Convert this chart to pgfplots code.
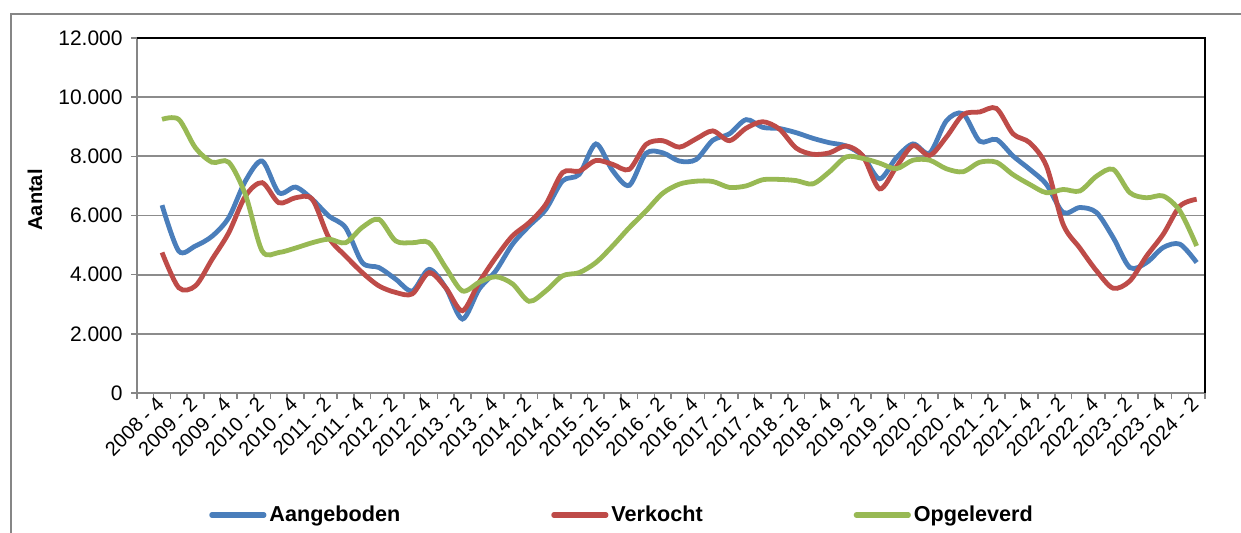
\documentclass[border=0pt]{standalone}
\usepackage{pgfplots}
\usepackage{pgfplotstable}
\pgfplotsset{compat=1.18}
\usepackage{fontspec}
\setmainfont{Liberation Sans}

\definecolor{cAang}{HTML}{4A7EBB}
\definecolor{cVerk}{HTML}{BE4B48}
\definecolor{cOpge}{HTML}{98B954}
\definecolor{axisgray}{HTML}{868686}
\definecolor{gridgray}{HTML}{8C8C8C}

% quarter index: 1 = 2008-4 ... 63 = 2024-2
\pgfplotstableread{
q  aang  verk  opge
1  6350  4750  9250
2  4800  3560  9250
3  4970  3620  8290
4  5300  4520  7800
5  5930  5420  7800
6  7170  6660  6700
7  7840  7110  4800
8  6770  6430  4750
9  6960  6600  4900
10 6550  6550  5080
11 5980  5250  5200
12 5590  4630  5080
13 4410  4070  5600
14 4240  3620  5870
15 3850  3400  5140
16 3450  3350  5080
17 4180  4070  5080
18 3560  3560  4240
19 2500  2780  3450
20 3510  3740  3740
21 4130  4580  3930
22 5030  5310  3690
23 5650  5760  3100
24 6210  6380  3450
25 7170  7450  3960
26 7390  7500  4070
27 8420  7860  4410
28 7520  7730  4970
29 7020  7560  5590
30 8100  8400  6150
31 8120  8530  6750
32 7840  8310  7060
33 7890  8590  7160
34 8540  8860  7150
35 8760  8530  6950
36 9240  8950  7000
37 8980  9170  7210
38 8940  8920  7220
39 8800  8280  7180
40 8610  8070  7070
41 8460  8120  7480
42 8350  8350  7980
43 8010  8010  7930
44 7240  6900  7770
45 7950  7640  7580
46 8420  8360  7870
47 8110  8030  7870
48 9200  8650  7580
49 9440  9410  7480
50 8510  9500  7800
51 8570  9620  7800
52 8010  8760  7380
53 7560  8460  7050
54 7050  7670  6770
55 6100  5700  6880
56 6270  4900  6830
57 6100  4130  7330
58 5250  3540  7560
59 4240  3790  6770
60 4410  4630  6600
61 4920  5370  6660
62 5030  6320  6150
63 4410  6550  4970
}\datatable

\begin{document}
\begin{tikzpicture}
\useasboundingbox (0,0) rectangle (620.5pt,266pt);
\draw[axisgray, line width=1pt] (5.5pt,-2pt) -- (5.5pt,259pt) -- (623pt,259pt);
\begin{axis}[
  at={(68.5pt,69.5pt)}, anchor=south west,
  scale only axis, width=534pt, height=177.5pt,
  xmin=-0.5, xmax=63.5, ymin=0, ymax=12000,
  axis lines=left, axis line style={-, draw=axisgray, line width=1pt},
  xtick={1,3,...,63},
  xticklabels={2008 - 4, 2009 - 2, 2009 - 4, 2010 - 2, 2010 - 4, 2011 - 2, 2011 - 4, 2012 - 2, 2012 - 4, 2013 - 2, 2013 - 4, 2014 - 2, 2014 - 4, 2015 - 2, 2015 - 4, 2016 - 2, 2016 - 4, 2017 - 2, 2017 - 4, 2018 - 2, 2018 - 4, 2019 - 2, 2019 - 4, 2020 - 2, 2020 - 4, 2021 - 2, 2021 - 4, 2022 - 2, 2022 - 4, 2023 - 2, 2023 - 4, 2024 - 2},
  minor xtick={-0.5,0.5,...,63.5},
  ytick={0,2000,...,12000},
  scaled y ticks=false,
  /pgf/number format/1000 sep={.},
  /pgf/number format/assume math mode=true,
  ymajorgrids, major grid style={draw=gridgray, line width=0.85pt},
  tick align=outside,
  major tick length=3pt, minor tick length=3pt,
  tick style={draw=axisgray, line width=0.8pt},
  major x tick style={draw=none},
  ticklabel style={font=\fontsize{10.5}{12}\selectfont, text=black},
  xticklabel style={rotate=45, anchor=east, inner sep=1pt, font=\fontsize{10}{12}\selectfont},
  yticklabel style={anchor=east, inner sep=1pt, xshift=-3pt},
  legend columns=3,
  legend style={at={(axis description cs:0.4546,-0.3437)}, anchor=center, draw=none, fill=none,
    font=\bfseries\fontsize{10.8}{13}\selectfont, inner sep=0pt,
    /tikz/every even column/.append style={column sep=74pt},
    nodes={inner sep=1.5pt}},
  legend image code/.code={\draw[#1, line width=2.6pt, line cap=round] (0pt,0pt) -- (26pt,0pt);},
  every axis plot/.append style={line width=2.4pt, smooth, tension=0.5, mark=none},
  clip=false,
]
\addplot[cAang] table[x=q, y=aang] {\datatable};
\addlegendentry{Aangeboden}
\addplot[cVerk] table[x=q, y=verk] {\datatable};
\addlegendentry{Verkocht}
\addplot[cOpge] table[x=q, y=opge] {\datatable};
\addlegendentry{Opgeleverd}
\draw[black, line width=1.3pt] (rel axis cs:0,1) -- (rel axis cs:1,1) -- (rel axis cs:1,0);
\node[rotate=90, font=\bfseries\fontsize{10}{12}\selectfont, xshift=0pt, yshift=51pt] at (rel axis cs:0,0.544) {Aantal};
\end{axis}
\end{tikzpicture}
\end{document}
